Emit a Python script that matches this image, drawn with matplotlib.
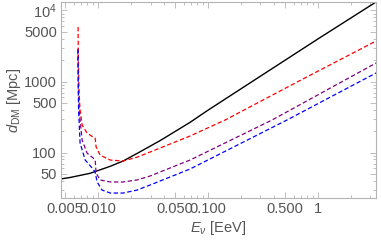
import matplotlib
matplotlib.use("Agg")
import matplotlib.pyplot as plt
from matplotlib.ticker import FixedLocator, LogLocator, NullFormatter

# ---------------------------------------------------------------
# data (E in EeV, d_DM in Mpc)
# ---------------------------------------------------------------
e_black = [0.0046, 0.00555, 0.00846, 0.0129, 0.0169, 0.0226, 0.0366, 0.0686, 0.1, 0.3, 1.0, 3.37]
d_black = [42.5, 44.5, 51.0, 64.0, 76.0, 97.0, 147.0, 266.0, 395.0, 1190.0, 3980.0, 13170.0]

e_red = [0.00658, 0.0066, 0.00664, 0.0067, 0.00678, 0.00686, 0.00716, 0.00794, 0.00901, 0.0094,
         0.0096, 0.01043, 0.0129, 0.0169, 0.0226, 0.0297, 0.0366, 0.0686, 0.143, 0.686, 3.37]
d_red = [5860.0, 3000.0, 1500.0, 800.0, 520.0, 397.0, 244.0, 188.0, 165.0, 160.0,
         119.5, 92.0, 78.4, 75.9, 86.0, 101.6, 115.7, 170.7, 287.0, 1033.0, 3715.0]

e_purple = [0.00656, 0.0066, 0.00664, 0.00672, 0.00716, 0.00794, 0.00901, 0.0094,
            0.0096, 0.01043, 0.0129, 0.0169, 0.0226, 0.0297, 0.0366, 0.0686, 0.382, 3.37]
d_purple = [2900.0, 1200.0, 700.0, 397.0, 150.0, 98.0, 83.7, 78.4,
            51.4, 41.1, 38.5, 38.5, 41.1, 46.7, 53.2, 78.4, 287.0, 1820.0]

e_blue = [0.00655, 0.00658, 0.0066, 0.00665, 0.00686, 0.00764, 0.00883, 0.0094,
          0.0098, 0.01087, 0.0129, 0.0169, 0.0226, 0.0297, 0.0366, 0.0686, 0.522, 3.37]
d_blue = [2780.0, 1500.0, 800.0, 397.0, 136.0, 78.4, 60.5, 53.2,
          38.5, 29.6, 26.9, 26.9, 29.6, 34.9, 39.7, 58.6, 287.0, 1318.0]

x_ticks = [0.005, 0.01, 0.05, 0.1, 0.5, 1]
x_labels = ['0.005', '0.010', '0.050', '0.100', '0.500', '1']
y_ticks = [50, 100, 500, 1000, 5000, 10000]
y_labels = ['50', '100', '500', '1000', '5000', r'$10^4$']

# ---------------------------------------------------------------
# style
# ---------------------------------------------------------------
FRAME = '#B4B4B4'
TEXT = '#555555'
plt.rcParams['font.family'] = ['Liberation Sans', 'DejaVu Sans']
plt.rcParams['mathtext.fontset'] = 'custom'
plt.rcParams['mathtext.rm'] = 'Liberation Sans'
plt.rcParams['mathtext.it'] = 'Liberation Sans:italic'

fig = plt.figure(figsize=(3.81, 2.42), dpi=100)
ax = fig.add_axes([61 / 381, 1 - 198 / 242, 315 / 381, 196 / 242])

dash = (0, (3.5, 2.0))
ax.plot(e_black, d_black, color='black', lw=1.0)
ax.plot(e_red, d_red, color='#FF0000', lw=0.9, ls=dash)
ax.plot(e_purple, d_purple, color='#800080', lw=0.9, ls=dash)
ax.plot(e_blue, d_blue, color='#0000FF', lw=0.9, ls=dash)

ax.set_xscale('log')
ax.set_yscale('log')
ax.set_xlim(0.0046, 3.37)
ax.set_ylim(22.9, 13170)

ax.xaxis.set_major_locator(FixedLocator(x_ticks))
ax.set_xticklabels(x_labels)
ax.yaxis.set_major_locator(FixedLocator(y_ticks))
ax.set_yticklabels(y_labels)
for a in (ax.xaxis, ax.yaxis):
    a.set_minor_locator(LogLocator(base=10, subs=range(1, 10), numticks=20))
    a.set_minor_formatter(NullFormatter())

ax.tick_params(which='both', direction='in', top=True, right=True,
               color=FRAME, labelcolor=TEXT, labelsize=10.5, width=0.6)
ax.tick_params(which='major', length=4, pad=3)
ax.tick_params(which='minor', length=2)
for s in ax.spines.values():
    s.set_color(FRAME)
    s.set_linewidth(0.8)

ax.set_xlabel(r'$E_\nu$ [EeV]', color=TEXT, fontsize=10.5, labelpad=2)
ax.set_ylabel(r'$d_{\rm DM}$ [Mpc]', color=TEXT, fontsize=10.5, labelpad=1)

fig.savefig('out.png', dpi=100)
